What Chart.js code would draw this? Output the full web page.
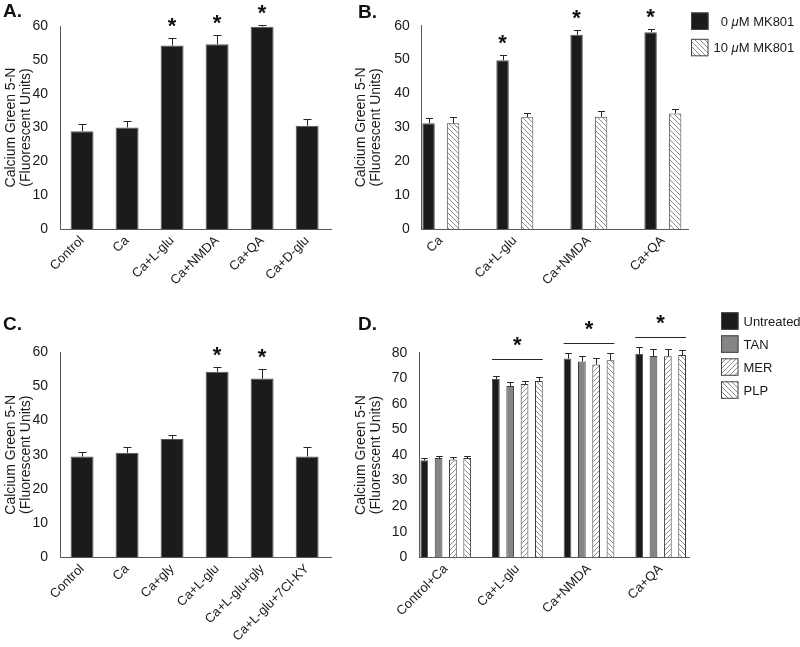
<!DOCTYPE html>
<html>
<head>
<meta charset="utf-8">
<script src="https://cdn.jsdelivr.net/npm/chart.js@4.4.1/dist/chart.umd.min.js"></script>
<style>
  body { margin: 0; background: #fff; }
  #fig { position: relative; width: 800px; height: 647px; overflow: hidden; background: #fff; }
  #fig canvas { position: absolute; }
  .tag { position: absolute; font: bold 19px/1 'Liberation Sans', Arial, sans-serif; color: #111; }
</style>
</head>
<body>
<div id="fig">
  <canvas id="panelA" width="340" height="300" style="left:0;top:0"></canvas>
  <canvas id="panelB" width="460" height="300" style="left:340px;top:0"></canvas>
  <canvas id="panelC" width="340" height="347" style="left:0;top:300px"></canvas>
  <canvas id="panelD" width="460" height="347" style="left:340px;top:300px"></canvas>
  <div class="tag" style="left:3px;top:1px">A.</div>
  <div class="tag" style="left:358px;top:2px">B.</div>
  <div class="tag" style="left:3px;top:314px">C.</div>
  <div class="tag" style="left:358px;top:314px">D.</div>
</div>
<script>
// ---- data ----
// A: agonists
const catsA = ['Control', 'Ca', 'Ca+L-glu', 'Ca+NMDA', 'Ca+QA', 'Ca+D-glu'];
const meanA = [28.9, 30.0, 54.2, 54.6, 59.8, 30.5];
const errA = [2.1, 1.8, 2.4, 2.7, 0.4, 2.0];
const starA = [false, false, true, true, true, false];

// B: MK801
const catsB = ['Ca', 'Ca+L-glu', 'Ca+NMDA', 'Ca+QA'];
const mk0 = [31.2, 49.8, 57.3, 58.1];
const mk0Err = [1.7, 1.5, 1.4, 1.0];
const mk10 = [31.2, 33.0, 33.1, 34.1];
const mk10Err = [1.8, 1.3, 1.7, 1.3];
const starB = [false, true, true, true];

// C: glycine site
const catsC = ['Control', 'Ca', 'Ca+gly', 'Ca+L-glu', 'Ca+L-glu+gly', 'Ca+L-glu+7Cl-KY'];
const meanC = [29.5, 30.6, 34.6, 54.3, 52.3, 29.5];
const errC = [1.4, 1.8, 1.1, 1.5, 2.9, 2.9];
const starC = [false, false, false, true, true, false];

// D: redox agents
const catsD = ['Control+Ca', 'Ca+L-glu', 'Ca+NMDA', 'Ca+QA'];
const untreated = [37.9, 69.7, 77.7, 79.5];
const untreatedErr = [0.8, 1.3, 2.3, 2.6];
const tan = [38.8, 67.0, 76.6, 78.7];
const tanErr = [0.8, 1.5, 2.2, 2.9];
const mer = [38.2, 67.8, 75.4, 78.6];
const merErr = [1.1, 1.1, 2.4, 2.7];
const plp = [38.8, 68.9, 77.0, 79.1];
const plpErr = [0.8, 1.5, 2.7, 2.1];
const sigD = [null, 77.4, 83.6, 86.0];   // level of the bracket line

const yTitle = ['Calcium Green 5-N', '(Fluorescent Units)'];
const FONT = "'Liberation Sans', Arial, Helvetica, sans-serif";

Chart.defaults.font.family = FONT;
Chart.defaults.color = '#1a1a1a';
Chart.defaults.animation = false;

function toXY(vals) {
  return vals.map((v, i) => ({ x: i, y: v }));
}

// hatch fill, dir 'down' = \\\ , 'up' = ///
function hatch(dir) {
  const s = 5;
  const c = document.createElement('canvas');
  c.width = s; c.height = s;
  const g = c.getContext('2d');
  g.fillStyle = '#fff';
  g.fillRect(0, 0, s, s);
  g.strokeStyle = '#8c8c8c';
  g.lineWidth = 1;
  g.beginPath();
  if (dir === 'down') {
    g.moveTo(0, 0); g.lineTo(s, s);
    g.moveTo(-1, s - 1); g.lineTo(1, s + 1);
    g.moveTo(s - 1, -1); g.lineTo(s + 1, 1);
  } else {
    g.moveTo(0, s); g.lineTo(s, 0);
    g.moveTo(-1, 1); g.lineTo(1, -1);
    g.moveTo(s - 1, s + 1); g.lineTo(s + 1, s - 1);
  }
  g.stroke();
  return g.createPattern(c, 'repeat');
}

// error bars (upper half), stars and brackets
const marks = {
  id: 'marks',
  afterDatasetsDraw(chart, args, opts) {
    const ctx = chart.ctx;
    const y = chart.scales.y;
    const errTop = (d, j) => {
      const ds = chart.data.datasets[d];
      return y.getPixelForValue(ds.data[j].y + ds.errors[j]);
    };
    ctx.save();
    ctx.strokeStyle = '#262626';
    ctx.lineWidth = 1;
    chart.data.datasets.forEach((ds, d) => {
      chart.getDatasetMeta(d).data.forEach((bar, j) => {
        const x = Math.round(bar.x) + 0.5;
        const top = Math.round(errTop(d, j)) + 0.5;
        ctx.beginPath();
        ctx.moveTo(x, bar.y);
        ctx.lineTo(x, top);
        ctx.moveTo(x - opts.cap, top);
        ctx.lineTo(x + opts.cap, top);
        ctx.stroke();
      });
    });
    ctx.fillStyle = '#111';
    ctx.font = 'bold 22px ' + FONT;
    ctx.textAlign = 'center';
    ctx.textBaseline = 'alphabetic';
    if (opts.stars) {
      const bars = chart.getDatasetMeta(0).data;
      opts.stars.forEach((on, j) => {
        if (on) ctx.fillText('*', bars[j].x, errTop(0, j) - 5);
      });
    }
    if (opts.levels) {
      const metas = chart.data.datasets.map((ds, d) => chart.getDatasetMeta(d).data);
      opts.levels.forEach((lv, j) => {
        if (lv === null) return;
        const first = metas[0][j];
        const last = metas[metas.length - 1][j];
        const x0 = first.x - first.width / 2;
        const x1 = last.x + last.width / 2;
        const py = Math.round(y.getPixelForValue(lv)) + 0.5;
        ctx.beginPath();
        ctx.moveTo(x0, py);
        ctx.lineTo(x1, py);
        ctx.stroke();
        ctx.fillText('*', (x0 + x1) / 2, py - 8);
      });
    }
    ctx.restore();
  }
};

// small boxed key drawn beside the plot
const key = {
  id: 'key',
  afterDraw(chart, args, opts) {
    const ctx = chart.ctx;
    ctx.save();
    chart.data.datasets.forEach((ds, i) => {
      const bx = opts.x, by = opts.y + i * opts.step, s = opts.box;
      ctx.fillStyle = ds.backgroundColor;
      ctx.fillRect(bx, by, s, s);
      ctx.strokeStyle = '#444';
      ctx.lineWidth = 1;
      ctx.strokeRect(bx + 0.5, by + 0.5, s - 1, s - 1);
      // label, with an italic mu
      let tx = bx + s + opts.gap;
      const ty = by + s / 2 + 1;
      ctx.fillStyle = '#1a1a1a';
      ctx.textBaseline = 'middle';
      ctx.textAlign = 'left';
      ds.label.split(/(μ)/).forEach(part => {
        ctx.font = (part === 'μ' ? 'italic ' : '') + '13px ' + FONT;
        ctx.fillText(part, tx, ty);
        tx += ctx.measureText(part).width;
      });
    });
    ctx.restore();
  }
};

function panel(id, p) {
  const canvas = document.getElementById(id);
  const W = canvas.width, H = canvas.height;
  return new Chart(canvas, {
    type: 'bar',
    data: { datasets: p.datasets },
    plugins: [marks, key],
    options: {
      responsive: false,
      layout: { padding: { left: 0, top: p.area.top, right: W - p.area.right, bottom: 0 } },
      plugins: {
        legend: { display: false },
        tooltip: { enabled: false },
        marks: p.marks,
        key: p.key || { x: -100, y: -100, step: 0, box: 0, gap: 0 }
      },
      scales: {
        x: {
          type: 'linear',
          offset: false,
          min: p.xMin,
          max: p.xMax,
          grid: { display: false },
          border: { display: true, color: '#5a5a5a', width: 1 },
          afterFit(s) { s.height = H - p.area.bottom; },
          afterBuildTicks(s) { s.ticks = p.cats.map((c, i) => ({ value: i })); },
          ticks: {
            autoSkip: false,
            minRotation: 45,
            maxRotation: 45,
            padding: -4,
            font: { size: 13 },
            callback: v => p.cats[v]
          }
        },
        y: {
          min: 0,
          max: p.yMax,
          grid: { display: false },
          border: { display: true, color: '#5a5a5a', width: 1 },
          afterFit(s) { s.width = p.area.left; },
          ticks: { stepSize: 10, padding: 4, font: { size: 14 } },
          title: {
            display: true,
            text: yTitle,
            font: { size: 14, lineHeight: 1.1 },
            padding: { top: p.titlePad, bottom: 0 }
          }
        }
      }
    }
  });
}

const solid = '#1b1b1b';
const edge = '#555';

panel('panelA', {
  cats: catsA, xMin: -0.49, xMax: 5.53, yMax: 60, titlePad: 3,
  area: { left: 60, right: 331, top: 26, bottom: 229 },
  marks: { cap: 4, stars: starA },
  datasets: [{
    label: 'A', data: toXY(meanA), errors: errA,
    backgroundColor: solid, borderColor: edge, borderWidth: 1,
    categoryPercentage: 1, barPercentage: 0.51
  }]
});

panel('panelB', {
  cats: catsB, xMin: -0.258, xMax: 3.34, yMax: 60, titlePad: 13.5,
  area: { left: 81.7, right: 348, top: 25.7, bottom: 229 },
  marks: { cap: 3.5, stars: starB },
  key: { x: 351, y: 12.5, step: 26.3, box: 17.5, gap: 5 },
  datasets: [{
    label: '\u20070 μM MK801', data: toXY(mk0), errors: mk0Err,
    backgroundColor: solid, borderColor: edge, borderWidth: 1,
    categoryPercentage: 0.662, barPercentage: 0.51
  }, {
    label: '10 μM MK801', data: toXY(mk10), errors: mk10Err,
    backgroundColor: hatch('down'), borderColor: '#444', borderWidth: 1,
    categoryPercentage: 0.662, barPercentage: 0.51
  }]
});

panel('panelC', {
  cats: catsC, xMin: -0.49, xMax: 5.53, yMax: 60, titlePad: 3,
  area: { left: 60, right: 331, top: 52.3, bottom: 257.3 },
  marks: { cap: 4, stars: starC },
  datasets: [{
    label: 'C', data: toXY(meanC), errors: errC,
    backgroundColor: solid, borderColor: edge, borderWidth: 1,
    categoryPercentage: 1, barPercentage: 0.51
  }]
});

const dOpts = { borderWidth: 1, categoryPercentage: 0.8, barPercentage: 0.54 };
panel('panelD', {
  cats: catsD, xMin: -0.369, xMax: 3.40, yMax: 80, titlePad: 13.5,
  area: { left: 79.3, right: 349.3, top: 52.7, bottom: 257.3 },
  marks: { cap: 3.3, levels: sigD },
  key: { x: 381, y: 12.3, step: 23, box: 17.5, gap: 5 },
  datasets: [
    Object.assign({ label: 'Untreated', data: toXY(untreated), errors: untreatedErr, backgroundColor: solid, borderColor: edge }, dOpts),
    Object.assign({ label: 'TAN', data: toXY(tan), errors: tanErr, backgroundColor: '#858585', borderColor: '#3a3a3a' }, dOpts),
    Object.assign({ label: 'MER', data: toXY(mer), errors: merErr, backgroundColor: hatch('up'), borderColor: '#3a3a3a' }, dOpts),
    Object.assign({ label: 'PLP', data: toXY(plp), errors: plpErr, backgroundColor: hatch('down'), borderColor: '#3a3a3a' }, dOpts)
  ]
});
</script>
</body>
</html>
